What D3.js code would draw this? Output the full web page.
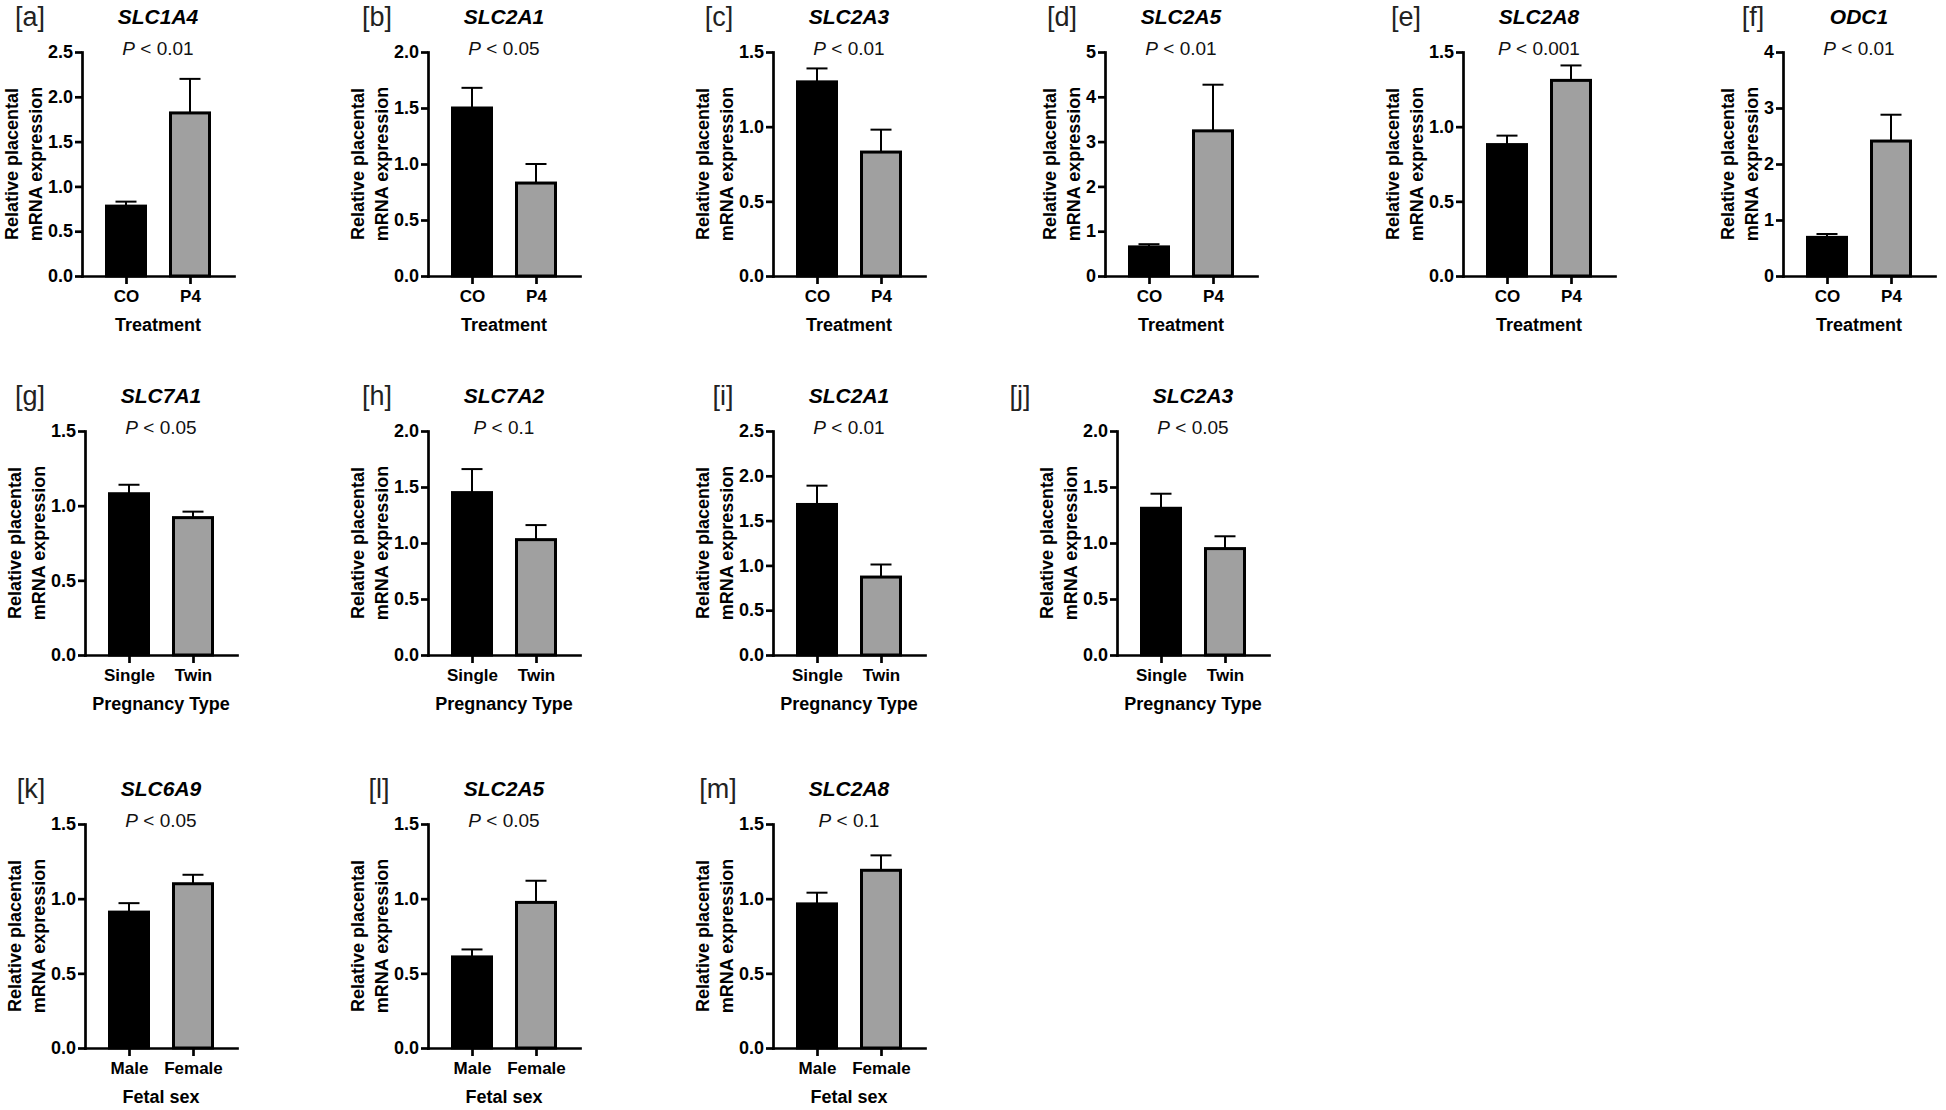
<!DOCTYPE html>
<html>
<head>
<meta charset="utf-8">
<script src="https://cdn.jsdelivr.net/npm/d3@7"></script>
<style>
  body { margin: 0; background: #fff; }
  svg { display: block; font-family: "Liberation Sans", Arial, sans-serif; }
</style>
</head>
<body>
<script>
var w = 1946;
var h = 1110;

// panel data
var tags = ["a", "b", "c", "d", "e", "f", "g", "h", "i", "j", "k", "l", "m"];
var genes = ["SLC1A4", "SLC2A1", "SLC2A3", "SLC2A5", "SLC2A8", "ODC1",
             "SLC7A1", "SLC7A2", "SLC2A1", "SLC2A3",
             "SLC6A9", "SLC2A5", "SLC2A8"];
var pTexts = ["< 0.01", "< 0.05", "< 0.01", "< 0.01", "< 0.001", "< 0.01",
              "< 0.05", "< 0.1", "< 0.01", "< 0.05",
              "< 0.05", "< 0.05", "< 0.1"];
var groupSets = [["CO", "P4"], ["Single", "Twin"], ["Male", "Female"]];
var xTitles = ["Treatment", "Pregnancy Type", "Fetal sex"];
var panelGroup = [0, 0, 0, 0, 0, 0, 1, 1, 1, 1, 2, 2, 2];

var firstMeans  = [0.78, 1.50, 1.30, 0.65, 0.88, 0.69, 1.08, 1.45, 1.68, 1.31, 0.91, 0.61, 0.965];
var firstSem    = [0.05, 0.18, 0.09, 0.06, 0.06, 0.06, 0.06, 0.21, 0.21, 0.13, 0.06, 0.05, 0.075];
var secondMeans = [1.82, 0.83, 0.83, 3.24, 1.31, 2.41, 0.92, 1.03, 0.87, 0.95, 1.10, 0.975, 1.19];
var secondSem   = [0.38, 0.17, 0.15, 1.03, 0.10, 0.47, 0.04, 0.13, 0.14, 0.11, 0.06, 0.145, 0.10];

var yMaxes = [2.5, 2.0, 1.5, 5, 1.5, 4, 1.5, 2.0, 2.5, 2.0, 1.5, 1.5, 1.5];
var ySteps = [0.5, 0.5, 0.5, 1, 0.5, 1, 0.5, 0.5, 0.5, 0.5, 0.5, 0.5, 0.5];

// layout of the grid
var rowOf  = [0, 0, 0, 0, 0, 0, 1, 1, 1, 1, 2, 2, 2];
var axisXs = [82, 428, 773, 1105, 1463, 1783, 85, 428, 773, 1117, 85, 428, 773];
var tagXs  = [30, 377, 719, 1062, 1406, 1753, 30, 377, 723, 1020, 31, 379, 718];
var rowTops = [52, 431, 824];
var plotW = 152;
var plotH = 224;

var svg = d3.select("body")
            .append("svg")
            .attr("width", w)
            .attr("height", h);

svg.append("rect").attr("width", w).attr("height", h).attr("fill", "#fff");

tags.forEach(function(tag, i) {
  drawPanel(i);
});

function drawPanel(i) {
  var x0 = axisXs[i];
  var top = rowTops[rowOf[i]];
  var groups = groupSets[panelGroup[i]];

  var g = svg.append("g").attr("transform", "translate(" + x0 + "," + top + ")");

  var xScale = d3.scalePoint()
                 .domain(groups)
                 .range([0, plotW])
                 .padding(0.6875);

  var yScale = d3.scaleLinear()
                 .domain([0, yMaxes[i]])
                 .range([plotH, 0]);

  var bars = [
    {grp: groups[0], mean: firstMeans[i], sem: firstSem[i], fill: "#000"},
    {grp: groups[1], mean: secondMeans[i], sem: secondSem[i], fill: "#a0a0a0"}
  ];

  // error bars (upper only)
  g.selectAll(".err")
   .data(bars)
   .enter().append("line")
   .attr("x1", function(d) { return xScale(d.grp); })
   .attr("x2", function(d) { return xScale(d.grp); })
   .attr("y1", function(d) { return yScale(d.mean); })
   .attr("y2", function(d) { return yScale(d.mean + d.sem); })
   .attr("stroke", "#000")
   .attr("stroke-width", 2);

  g.selectAll(".cap")
   .data(bars)
   .enter().append("line")
   .attr("x1", function(d) { return xScale(d.grp) - 10.5; })
   .attr("x2", function(d) { return xScale(d.grp) + 10.5; })
   .attr("y1", function(d) { return yScale(d.mean + d.sem); })
   .attr("y2", function(d) { return yScale(d.mean + d.sem); })
   .attr("stroke", "#000")
   .attr("stroke-width", 2);

  // bars
  g.selectAll(".bar")
   .data(bars)
   .enter().append("rect")
   .attr("x", function(d) { return xScale(d.grp) - 19.5; })
   .attr("width", 39)
   .attr("y", function(d) { return yScale(d.mean); })
   .attr("height", function(d) { return yScale(0) - yScale(d.mean); })
   .attr("fill", function(d) { return d.fill; })
   .attr("stroke", "#000")
   .attr("stroke-width", 3);

  // axes
  var fmt = ySteps[i] < 1 ? d3.format(".1f") : d3.format("d");
  var yAxis = d3.axisLeft(yScale)
                .tickValues(d3.range(0, yMaxes[i] + ySteps[i] / 2, ySteps[i]))
                .tickFormat(fmt)
                .tickSize(7)
                .tickSizeOuter(0)
                .tickPadding(2);

  var xAxis = d3.axisBottom(xScale)
                .tickSize(8)
                .tickSizeOuter(0)
                .tickPadding(6);

  var ya = g.append("g").call(yAxis);
  var xa = g.append("g").attr("transform", "translate(0," + plotH + ")").call(xAxis);

  [ya, xa].forEach(function(a) {
    a.select(".domain").attr("stroke", "#000").attr("stroke-width", 2.7).attr("stroke-linecap", "square");
    a.selectAll(".tick line").attr("stroke", "#000").attr("stroke-width", 2.7);
    a.selectAll("text")
     .attr("fill", "#000")
     .style("font-family", "'Liberation Sans', Arial, sans-serif")
     .style("font-weight", "bold");
  });
  ya.selectAll("text").style("font-size", "18px");
  xa.selectAll("text").style("font-size", "17px");

  // widest y tick label decides where the axis title goes
  var maxW = 0;
  ya.selectAll("text").each(function() {
    maxW = Math.max(maxW, this.getComputedTextLength());
  });
  var line2 = -9 - maxW - 6;
  var line1 = line2 - 24;

  var yLabels = [["Relative placental", line1], ["mRNA expression", line2]];
  yLabels.forEach(function(l) {
    g.append("text")
     .attr("transform", "translate(" + l[1] + "," + (plotH / 2) + ") rotate(-90)")
     .attr("text-anchor", "middle")
     .style("font-size", "18px")
     .style("font-weight", "bold")
     .text(l[0]);
  });

  // x axis title
  g.append("text")
   .attr("x", plotW / 2)
   .attr("y", plotH + 55)
   .attr("text-anchor", "middle")
   .style("font-size", "18px")
   .style("font-weight", "bold")
   .text(xTitles[panelGroup[i]]);

  // gene title
  g.append("text")
   .attr("x", plotW / 2)
   .attr("y", -28)
   .attr("text-anchor", "middle")
   .style("font-size", "21px")
   .style("font-weight", "bold")
   .style("font-style", "italic")
   .text(genes[i]);

  // P value
  var pt = g.append("text")
            .attr("x", plotW / 2)
            .attr("y", 3)
            .attr("text-anchor", "middle")
            .style("font-size", "19px")
            .attr("fill", "#111");
  pt.append("tspan").style("font-style", "italic").text("P");
  pt.append("tspan").text(" " + pTexts[i]);

  // panel tag
  svg.append("text")
     .attr("x", tagXs[i])
     .attr("y", top - 26)
     .attr("text-anchor", "middle")
     .style("font-size", "27px")
     .attr("fill", "#222")
     .text("[" + tags[i] + "]");
}
</script>
</body>
</html>
